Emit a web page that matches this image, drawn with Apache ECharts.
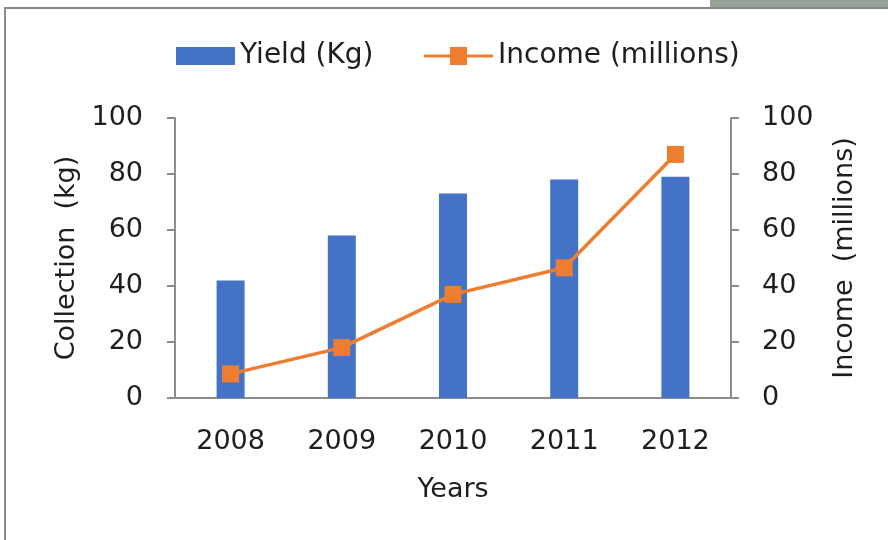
<!DOCTYPE html>
<html>
<head>
<meta charset="UTF-8"/>
<title>Yield and income</title>
<script src="https://cdn.jsdelivr.net/npm/echarts@6/dist/echarts.min.js"></script>
<style>
  html, body { margin: 0; padding: 0; background: #fff; }
  #main { width: 888px; height: 540px; }
</style>
</head>
<body>
<div id="main"></div>
<script>
// data
var years = ['2008', '2009', '2010', '2011', '2012'];
var yieldKg = [42, 58, 73, 78, 79];
var incomeMillions = [8.6, 18, 37, 46.5, 87];

var font = 'DejaVu Sans';
var txt = '#1e1e1e';
var axisGray = '#8c8c8c';
var blue = '#4472c4';
var orange = '#ed7d31';

// line-with-square marker, like the excel legend
var lineMarkIcon = 'path://M0,7.5 L26,7.5 L26,0 L43,0 L43,7.5 L69,7.5 L69,10.5 L43,10.5 L43,18 L26,18 L26,10.5 L0,10.5 Z';

var chart = echarts.init(document.getElementById('main'));

var legendText = { fontFamily: font, fontSize: 28, color: txt };

var option = {
    backgroundColor: '#fff',
    animation: false,
    textStyle: { fontFamily: font },
    // frame of the screenshot
    graphic: [
        { type: 'rect', shape: { x: 710, y: 0, width: 178, height: 7 }, style: { fill: '#97a297' } },
        { type: 'line', shape: { x1: 4, y1: 8, x2: 888, y2: 8 }, style: { stroke: '#8a8a8a', lineWidth: 2 } },
        { type: 'line', shape: { x1: 5, y1: 8, x2: 5, y2: 540 }, style: { stroke: '#8a8a8a', lineWidth: 2 } }
    ],
    legend: [
        {
            left: 176, top: 42, padding: 0,
            itemWidth: 59, itemHeight: 18,
            textStyle: legendText,
            data: [{ name: 'Yield (Kg)', icon: 'rect' }]
        },
        {
            left: 424, top: 42, padding: 0,
            itemWidth: 69, itemHeight: 18,
            textStyle: legendText,
            data: [{ name: 'Income (millions)', icon: lineMarkIcon, itemStyle: { color: orange } }]
        }
    ],
    grid: { left: 175, right: 157, top: 118, bottom: 142, containLabel: false },
    xAxis: {
        type: 'category',
        data: years,
        name: 'Years',
        nameLocation: 'middle',
        nameGap: 78,
        nameTextStyle: { fontFamily: font, fontSize: 27, color: txt },
        axisLine: { lineStyle: { color: axisGray, width: 2 } },
        axisTick: { show: false },
        axisLabel: { fontFamily: font, fontSize: 27, color: txt, margin: 30 }
    },
    yAxis: [
        {
            type: 'value',
            min: 0, max: 100, interval: 20,
            name: 'Collection  (kg)',
            nameLocation: 'middle',
            nameRotate: 90,
            nameGap: 92,
            nameTextStyle: { fontFamily: font, fontSize: 27, color: txt },
            axisLine: { show: true, lineStyle: { color: axisGray, width: 2 } },
            axisTick: { show: true, length: 8, lineStyle: { color: axisGray, width: 2 } },
            splitLine: { show: false },
            axisLabel: { fontFamily: font, fontSize: 27, color: txt, margin: 32 }
        },
        {
            type: 'value',
            min: 0, max: 100, interval: 20,
            name: 'Income  (millions)',
            nameLocation: 'middle',
            nameRotate: 90,
            nameGap: 100,
            nameTextStyle: { fontFamily: font, fontSize: 27, color: txt },
            axisLine: { show: true, lineStyle: { color: axisGray, width: 2 } },
            axisTick: { show: true, length: 8, lineStyle: { color: axisGray, width: 2 } },
            splitLine: { show: false },
            axisLabel: { fontFamily: font, fontSize: 27, color: txt, margin: 31 }
        }
    ],
    series: [
        {
            name: 'Yield (Kg)',
            type: 'bar',
            yAxisIndex: 0,
            barWidth: 28,
            itemStyle: { color: blue },
            data: yieldKg
        },
        {
            name: 'Income (millions)',
            type: 'line',
            yAxisIndex: 1,
            symbol: 'rect',
            symbolSize: 17,
            lineStyle: { color: orange, width: 3.5 },
            itemStyle: { color: orange },
            data: incomeMillions
        }
    ]
};

chart.setOption(option);
</script>
</body>
</html>
